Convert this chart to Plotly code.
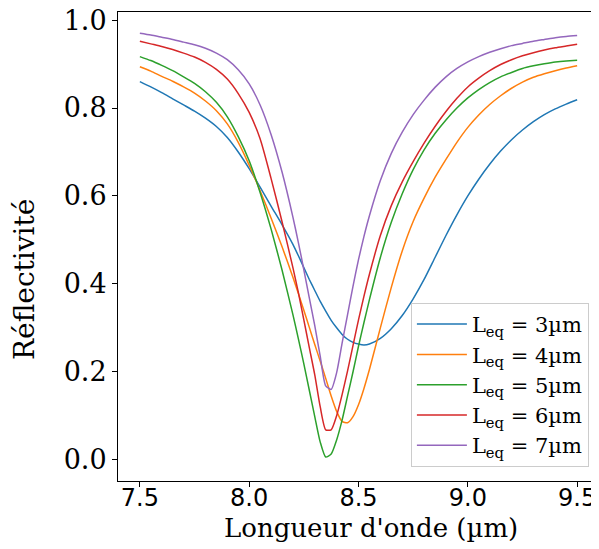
import plotly.graph_objects as go

wavelength = [7.5, 7.55, 7.6, 7.65, 7.7, 7.75, 7.8, 7.85, 7.9, 7.95, 8.0, 8.05, 8.1, 8.15, 8.2,
              8.225, 8.25, 8.275, 8.3, 8.325, 8.35, 8.375, 8.4, 8.425, 8.45, 8.475, 8.5, 8.525, 8.55,
              8.6, 8.65, 8.7, 8.75, 8.8, 8.85, 8.9, 8.95, 9.0, 9.05, 9.1, 9.15, 9.2, 9.25, 9.3, 9.35,
              9.4, 9.45, 9.5]

r_3um = [0.860, 0.848, 0.835, 0.821, 0.807, 0.793, 0.777, 0.758, 0.733, 0.700, 0.662, 0.620, 0.577,
         0.535, 0.490, 0.464, 0.437, 0.410, 0.385, 0.360, 0.338, 0.317, 0.300, 0.285, 0.274, 0.267,
         0.263, 0.261, 0.263, 0.276, 0.298, 0.328, 0.366, 0.410, 0.460, 0.510, 0.557, 0.600, 0.638,
         0.672, 0.702, 0.728, 0.750, 0.769, 0.785, 0.798, 0.809, 0.819]
r_4um = [0.894, 0.884, 0.872, 0.861, 0.848, 0.834, 0.816, 0.794, 0.764, 0.722, 0.670, 0.612, 0.550,
         0.485, 0.415, 0.378, 0.340, 0.301, 0.262, 0.224, 0.185, 0.145, 0.110, 0.087, 0.084, 0.098,
         0.125, 0.162, 0.205, 0.300, 0.392, 0.475, 0.542, 0.595, 0.642, 0.683, 0.722, 0.756, 0.784,
         0.808, 0.828, 0.845, 0.859, 0.870, 0.878, 0.885, 0.891, 0.896]
r_5um = [0.917, 0.908, 0.897, 0.885, 0.871, 0.856, 0.837, 0.813, 0.780, 0.735, 0.680, 0.608, 0.525,
         0.432, 0.330, 0.275, 0.218, 0.158, 0.098, 0.040, 0.006, 0.013, 0.045, 0.090, 0.145, 0.200,
         0.258, 0.312, 0.364, 0.460, 0.540, 0.605, 0.660, 0.705, 0.742, 0.773, 0.800, 0.823, 0.842,
         0.858, 0.871, 0.881, 0.890, 0.896, 0.901, 0.905, 0.907, 0.909]
r_6um = [0.952, 0.946, 0.940, 0.933, 0.925, 0.916, 0.904, 0.888, 0.866, 0.833, 0.790, 0.730, 0.640,
         0.542, 0.437, 0.380, 0.318, 0.255, 0.193, 0.120, 0.068, 0.068, 0.100, 0.148, 0.202, 0.260,
         0.318, 0.372, 0.422, 0.510, 0.578, 0.632, 0.678, 0.720, 0.758, 0.792, 0.822, 0.848, 0.868,
         0.885, 0.899, 0.910, 0.919, 0.926, 0.932, 0.937, 0.941, 0.945]
r_7um = [0.970, 0.966, 0.961, 0.956, 0.950, 0.944, 0.936, 0.925, 0.910, 0.887, 0.855, 0.807, 0.740,
         0.655, 0.552, 0.494, 0.432, 0.368, 0.305, 0.235, 0.168, 0.160, 0.198, 0.265, 0.330, 0.395,
         0.455, 0.508, 0.555, 0.635, 0.697, 0.745, 0.785, 0.818, 0.847, 0.871, 0.890, 0.905, 0.917,
         0.927, 0.935, 0.942, 0.947, 0.952, 0.956, 0.960, 0.963, 0.965]

series_names = ["L<sub>eq</sub> = 3µm", "L<sub>eq</sub> = 4µm", "L<sub>eq</sub> = 5µm",
                "L<sub>eq</sub> = 6µm", "L<sub>eq</sub> = 7µm"]
series_values = [r_3um, r_4um, r_5um, r_6um, r_7um]
colors = ["#1f77b4", "#ff7f0e", "#2ca02c", "#d62728", "#9467bd"]

x_ticks = [7.5, 8.0, 8.5, 9.0, 9.5]
x_tick_labels = ["7.5", "8.0", "8.5", "9.0", "9.5"]
y_ticks = [0.0, 0.2, 0.4, 0.6, 0.8, 1.0]
y_tick_labels = ["0.0", "0.2", "0.4", "0.6", "0.8", "1.0"]
x_title = "Longueur d'onde (µm)"
y_title = "Réflectivité"

fig = go.Figure()
for name, vals, col in zip(series_names, series_values, colors):
    fig.add_trace(go.Scatter(x=wavelength, y=vals, mode="lines", name=name,
                             line=dict(color=col, width=1.5, shape="spline", smoothing=0.6)))

serif = "DejaVu Serif"
# the page body has an 8px default margin, so the figure is sized to fit 599x549 with it
fig.update_layout(
    width=591, height=541,
    margin=dict(l=110, r=0, t=4, b=68),
    paper_bgcolor="white", plot_bgcolor="white",
    font=dict(family=serif, color="black"),
    xaxis=dict(range=[7.4, 9.6], tickvals=x_ticks, ticktext=x_tick_labels, automargin=False,
               tickfont=dict(family="DejaVu Sans", size=24, color="black"),
               ticklabeloverflow="allow", ticklabelstandoff=-10,
               showline=True, linecolor="black", linewidth=1, mirror=True,
               ticks="outside", ticklen=5, tickcolor="black", showgrid=False, zeroline=False),
    yaxis=dict(range=[-0.0485, 1.0185], tickvals=y_ticks, ticktext=y_tick_labels, automargin=False,
               tickfont=dict(family=serif, size=27, color="black"),
               ticklabeloverflow="allow",
               showline=True, linecolor="black", linewidth=1, mirror=False,
               ticks="outside", ticklen=5, tickcolor="black", showgrid=False, zeroline=False),
    legend=dict(x=0.979, y=0.030, xanchor="right", yanchor="bottom",
                bgcolor="white", bordercolor="#cccccc", borderwidth=1,
                font=dict(family=serif, size=21, color="black"), itemwidth=50),
    showlegend=True,
    annotations=[
        dict(text=x_title, xref="paper", yref="paper", x=0.526, y=-0.100,
             xanchor="center", yanchor="middle", showarrow=False,
             font=dict(family=serif, size=26, color="black")),
        dict(text=y_title, xref="paper", yref="paper", x=-0.1933, y=0.4286,
             xanchor="center", yanchor="middle", showarrow=False, textangle=-90,
             font=dict(family=serif, size=28, color="black")),
    ],
)

fig.write_html("out.html")
